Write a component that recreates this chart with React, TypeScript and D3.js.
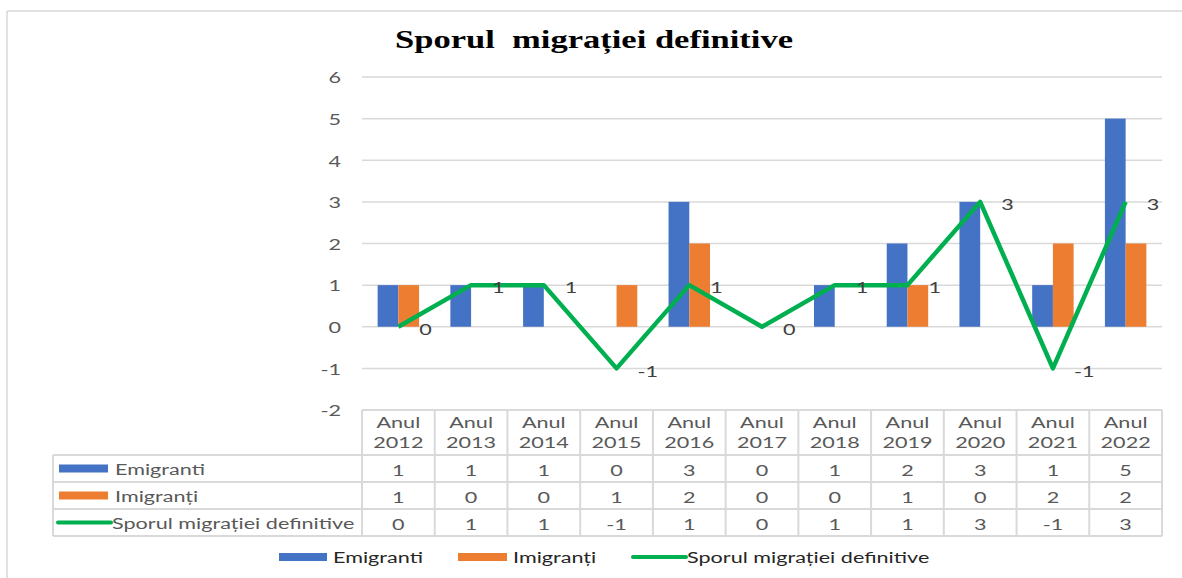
import React from "react";
import * as d3 from "d3";

const years = ["2012","2013","2014","2015","2016","2017","2018","2019","2020","2021","2022"];
const emigranti = [1,1,1,0,3,0,1,2,3,1,5];
const imigranti = [1,0,0,1,2,0,0,1,0,2,2];
const sporul = [0,1,1,-1,1,0,1,1,3,-1,3];
const yTicks = [-2,-1,0,1,2,3,4,5,6];
const seriesNames = ["Emigranti","Imigranți","Sporul migrației definitive"];
const title = "Sporul  migrației definitive";

const BLUE = "#4472C4";
const ORANGE = "#ED7D31";
const GREEN = "#00B050";
const GRID = "#D9D9D9";
const SX = 1.35;
const FONT = "Lato, 'Noto Sans', sans-serif";

function T({x, y, children, anchor = "start", size = 16, fill = "#595959", baseline = "auto"}: any) {
  return (
    <text transform={`translate(${x},${y}) scale(${SX},1)`} textAnchor={anchor}
      fontFamily={FONT} fontSize={size} fill={fill} dominantBaseline={baseline}
      style={{whiteSpace: "pre"}}>{children}</text>
  );
}

export default function App() {
  const W = 1182, H = 578;
  const left = 362, right = 1162;
  const x = d3.scaleBand<string>().domain(years).range([left, right]).padding(0);
  const y = d3.scaleLinear().domain([-2, 6]).range([410, 77]);
  const bw = x.bandwidth();
  const barW = bw * 0.285;
  const cx = (yr: string) => (x(yr) as number) + bw / 2;

  const line = d3.line<number>().x((_, i) => cx(years[i])).y(d => y(d));

  const headerTop = 410, r1 = 455, r2 = 482, r3 = 509, r4 = 536;
  const rows = [r1, r2, r3, r4];
  const tableLeft = 53;
  const rowData = [emigranti, imigranti, sporul];
  const swatchColors = [BLUE, ORANGE, GREEN];

  return (
    <svg width={W} height={H} style={{position: "absolute", left: 0, top: 0, background: "#fff"}}>
      <rect x={0} y={0} width={W} height={H} fill="#fff" />
      {/* frame */}
      <line x1={7} y1={11} x2={W} y2={11} stroke={GRID} strokeWidth={1.5} />
      <line x1={7} y1={11} x2={7} y2={H} stroke={GRID} strokeWidth={1.5} />

      {/* title */}
      <text x={594} y={48} textAnchor="middle" fontFamily="'Liberation Serif', 'Times New Roman', serif"
        fontWeight="bold" fontSize={25} fill="#000" textLength={398} lengthAdjust="spacingAndGlyphs"
        style={{whiteSpace: "pre"}}>{title}</text>

      {/* gridlines */}
      {yTicks.filter(t => t > -2).map(t => (
        <line key={t} x1={left} x2={right} y1={y(t)} y2={y(t)} stroke={GRID} strokeWidth={1.5} />
      ))}
      {/* tick labels */}
      {yTicks.map(t => (
        <T key={t} x={341} y={y(t)} anchor="end" baseline="central">{String(t)}</T>
      ))}

      {/* bars */}
      {years.map((yr, i) => (
        <g key={yr}>
          {emigranti[i] !== 0 && (
            <rect x={cx(yr) - barW} width={barW} y={y(Math.max(0, emigranti[i]))}
              height={Math.abs(y(emigranti[i]) - y(0))} fill={BLUE} />
          )}
          {imigranti[i] !== 0 && (
            <rect x={cx(yr)} width={barW} y={y(Math.max(0, imigranti[i]))}
              height={Math.abs(y(imigranti[i]) - y(0))} fill={ORANGE} />
          )}
        </g>
      ))}

      {/* line */}
      <path d={line(sporul) as string} fill="none" stroke={GREEN} strokeWidth={4.5} strokeLinejoin="round" />
      {sporul.map((v, i) => (
        <T key={i} x={cx(years[i]) + 21} y={y(v) + 2} baseline="central" fill="#404040">{String(v)}</T>
      ))}

      {/* data table */}
      <g stroke={GRID} strokeWidth={2} fill="none">
        <line x1={left} x2={right} y1={headerTop} y2={headerTop} />
        {rows.map(r => <line key={r} x1={tableLeft} x2={right} y1={r} y2={r} />)}
        {years.map(yr => (
          <line key={yr} x1={x(yr) as number} x2={x(yr) as number} y1={headerTop} y2={r4} />
        ))}
        <line x1={right} x2={right} y1={headerTop} y2={r4} />
        <line x1={tableLeft} x2={tableLeft} y1={r1} y2={r4} />
      </g>
      {years.map(yr => (
        <g key={yr}>
          <T x={cx(yr)} y={428} anchor="middle">Anul</T>
          <T x={cx(yr)} y={448} anchor="middle">{yr}</T>
        </g>
      ))}
      {rowData.map((arr, ri) => (
        <g key={ri}>
          {arr.map((v, i) => (
            <T key={i} x={cx(years[i])} y={(rows[ri] + rows[ri + 1]) / 2 + 1} anchor="middle" baseline="central">{String(v)}</T>
          ))}
          {ri < 2 ? (
            <rect x={59} y={(rows[ri] + rows[ri + 1]) / 2 - 4} width={49} height={8} fill={swatchColors[ri]} />
          ) : (
            <line x1={58} x2={111} y1={(rows[ri] + rows[ri + 1]) / 2} y2={(rows[ri] + rows[ri + 1]) / 2}
              stroke={GREEN} strokeWidth={4} strokeLinecap="round" />
          )}
          <T x={ri < 2 ? 115 : 112} y={(rows[ri] + rows[ri + 1]) / 2} baseline="central">{seriesNames[ri]}</T>
        </g>
      ))}

      {/* legend */}
      <rect x={279} y={553} width={48} height={8} fill={BLUE} />
      <T x={333} y={557} baseline="central" fill="#262626">{seriesNames[0]}</T>
      <rect x={458} y={553} width={49} height={8} fill={ORANGE} />
      <T x={513} y={557} baseline="central" fill="#262626">{seriesNames[1]}</T>
      <line x1={633} x2={686} y1={557} y2={557} stroke={GREEN} strokeWidth={4} strokeLinecap="round" />
      <T x={687} y={557} baseline="central" fill="#262626">{seriesNames[2]}</T>
    </svg>
  );
}
